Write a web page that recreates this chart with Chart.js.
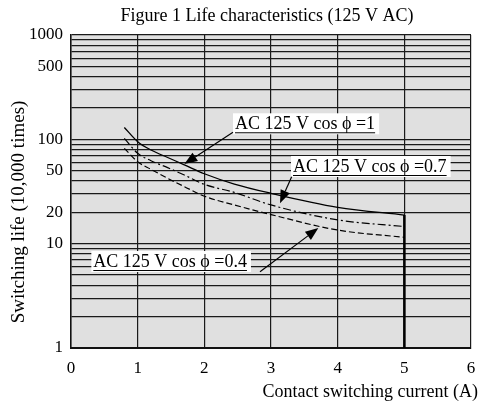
<!DOCTYPE html>
<html>
<head>
<meta charset="utf-8">
<script src="https://cdn.jsdelivr.net/npm/chart.js@4/dist/chart.umd.min.js"></script>
<style>
    html, body { margin: 0; padding: 0; background: #fff; }
    #wrap { width: 480px; height: 405px; }
</style>
</head>
<body>
<div id="wrap"><canvas id="myChart" width="480" height="405"></canvas></div>
<script>
// Datos
const currentA = [0.8, 1, 1.2, 1.45, 1.7, 2, 2.45, 3, 4, 5];
const lifeCos1 = [130, 95, 79, 67, 57, 46.8, 37.3, 30.4, 22.3, 18.8];
const lifeCos07 = [102, 73.5, 62.4, 53.5, 45.5, 37, 31, 23.5, 16.9, 14.6];
const lifeCos04 = [82, 61, 51.6, 42.3, 35.2, 28.5, 23.5, 19, 13.5, 11.5];
const limitX = [5, 5];
const limitY = [18.8, 1];
const xTicks = [0, 1, 2, 3, 4, 5, 6];
const yGrid = [1, 2, 3, 4, 5, 6, 7, 8, 9, 10, 20, 30, 40, 50, 60, 70, 80, 90, 100, 200, 300, 400, 500, 600, 700, 800, 900, 1000];
const yLabels = [1, 10, 20, 50, 100, 500, 1000];
const seriesNames = ["AC 125 V cos \u03d5 =1", "AC 125 V cos \u03d5 =0.7", "AC 125 V cos \u03d5 =0.4"];

const serif = "'Liberation Serif', 'Times New Roman', serif";

function puntos(xs, ys) {
    return xs.map((x, i) => ({ x: x, y: ys[i] }));
}

// Etiquetas con flecha (coordenadas en unidades de datos)
const notas = [
    { text: seriesNames[0], tx: 2.46, ty: 116.8, ax: 2.43, ay: 116.8, bx: 1.70, by: 58 },
    { text: seriesNames[1], tx: 3.33, ty: 45.5, ax: 3.31, ay: 43.8, bx: 3.135, by: 24.4 },
    { text: seriesNames[2], tx: 0.335, ty: 5.59, ax: 2.835, ay: 5.39, bx: 3.71, by: 14.1 },
];

function flecha(c, x1, y1, x2, y2) {
    const ang = Math.atan2(y2 - y1, x2 - x1);
    const len = 13, half = 5;
    const bx = x2 - len * Math.cos(ang), by = y2 - len * Math.sin(ang);
    c.beginPath();
    c.moveTo(x1, y1);
    c.lineTo(bx, by);
    c.stroke();
    c.beginPath();
    c.moveTo(x2, y2);
    c.lineTo(bx + half * Math.sin(ang), by - half * Math.cos(ang));
    c.lineTo(bx - half * Math.sin(ang), by + half * Math.cos(ang));
    c.closePath();
    c.fill();
}

const fondoPlugin = {
    id: "fondo",
    beforeDraw(chart) {
        const a = chart.chartArea;
        const c = chart.ctx;
        c.save();
        c.fillStyle = "#fff";
        c.fillRect(0, 0, chart.width, chart.height);
        c.fillStyle = "#e0e0e0";
        c.fillRect(a.left, a.top, a.right - a.left, a.bottom - a.top);
        c.restore();
    },
    afterDraw(chart) {
        const c = chart.ctx;
        const sx = chart.scales.x, sy = chart.scales.y;
        c.save();
        c.fillStyle = "#000";
        c.strokeStyle = "#000";

        // título
        c.font = "18px " + serif;
        c.textAlign = "center";
        c.textBaseline = "alphabetic";
        c.fillText("Figure 1 Life characteristics (125 V AC)", 267, 21);

        // título eje x
        c.textAlign = "right";
        c.fillText("Contact switching current (A)", 478, 397);

        // título eje y
        c.save();
        c.translate(24, 212);
        c.rotate(-Math.PI / 2);
        c.textAlign = "center";
        c.font = "19px " + serif;
        c.fillText("Switching life (10,000 times)", 0, 0);
        c.restore();

        // notas
        c.font = "18px " + serif;
        c.textAlign = "left";
        notas.forEach((n) => {
            const tx = sx.getPixelForValue(n.tx);
            const ty = sy.getPixelForValue(n.ty);
            const w = c.measureText(n.text).width;
            c.fillStyle = "#fff";
            c.fillRect(tx - 2, ty - 19, w + 6, 21);
            c.fillStyle = "#000";
            c.fillText(n.text, tx, ty - 3);
            c.lineWidth = 1;
            c.beginPath();
            c.moveTo(tx, ty + 0.5);
            c.lineTo(tx + w, ty + 0.5);
            c.stroke();
            c.lineWidth = 1.2;
            flecha(c, sx.getPixelForValue(n.ax), sy.getPixelForValue(n.ay),
                sx.getPixelForValue(n.bx), sy.getPixelForValue(n.by));
        });
        c.restore();
    },
};

const ctx = document.querySelector("#myChart");
new Chart(ctx, {
    type: "line",
    data: {
        datasets: [
            {
                label: seriesNames[0],
                data: puntos(currentA, lifeCos1),
                borderColor: "#000",
                borderWidth: 1.3,
                pointRadius: 0,
                cubicInterpolationMode: "monotone",
            },
            {
                label: seriesNames[1],
                data: puntos(currentA, lifeCos07),
                borderColor: "#000",
                borderWidth: 1.2,
                borderDash: [8, 3, 2, 3],
                pointRadius: 0,
                cubicInterpolationMode: "monotone",
            },
            {
                label: seriesNames[2],
                data: puntos(currentA, lifeCos04),
                borderColor: "#000",
                borderWidth: 1.2,
                borderDash: [6, 3],
                pointRadius: 0,
                cubicInterpolationMode: "monotone",
            },
            {
                label: "limit",
                data: puntos(limitX, limitY),
                borderColor: "#000",
                borderWidth: 2.5,
                pointRadius: 0,
            },
        ],
    },
    options: {
        responsive: false,
        animation: false,
        events: [],
        layout: { padding: { top: 35, right: 9, bottom: 0, left: 0 } },
        scales: {
            x: {
                type: "linear",
                min: 0,
                max: 6,
                afterFit: (scale) => {
                    scale.height = 57;
                    scale.paddingLeft = 0;
                    scale.paddingRight = 0;
                },
                afterBuildTicks: (scale) => { scale.ticks = xTicks.map((v) => ({ value: v })); },
                grid: { color: "#1a1a1a", lineWidth: 1.2, drawTicks: false },
                border: { color: "#111", width: 2 },
                ticks: {
                    padding: 10,
                    color: "#000",
                    font: { family: serif, size: 17 },
                },
            },
            y: {
                type: "logarithmic",
                min: 1,
                max: 1000,
                afterFit: (scale) => {
                    scale.width = 71;
                    scale.paddingTop = 0;
                    scale.paddingBottom = 0;
                },
                afterBuildTicks: (scale) => { scale.ticks = yGrid.map((v) => ({ value: v })); },
                grid: { color: "#1a1a1a", lineWidth: 1.2, drawTicks: false },
                border: { color: "#111", width: 1.5 },
                ticks: {
                    padding: 8,
                    color: "#000",
                    autoSkip: false,
                    font: { family: serif, size: 17 },
                    callback: (v) => (yLabels.includes(v) ? String(v) : ""),
                },
            },
        },
        plugins: {
            legend: { display: false },
            tooltip: { enabled: false },
            title: { display: false },
        },
    },
    plugins: [fondoPlugin],
});
</script>
</body>
</html>
